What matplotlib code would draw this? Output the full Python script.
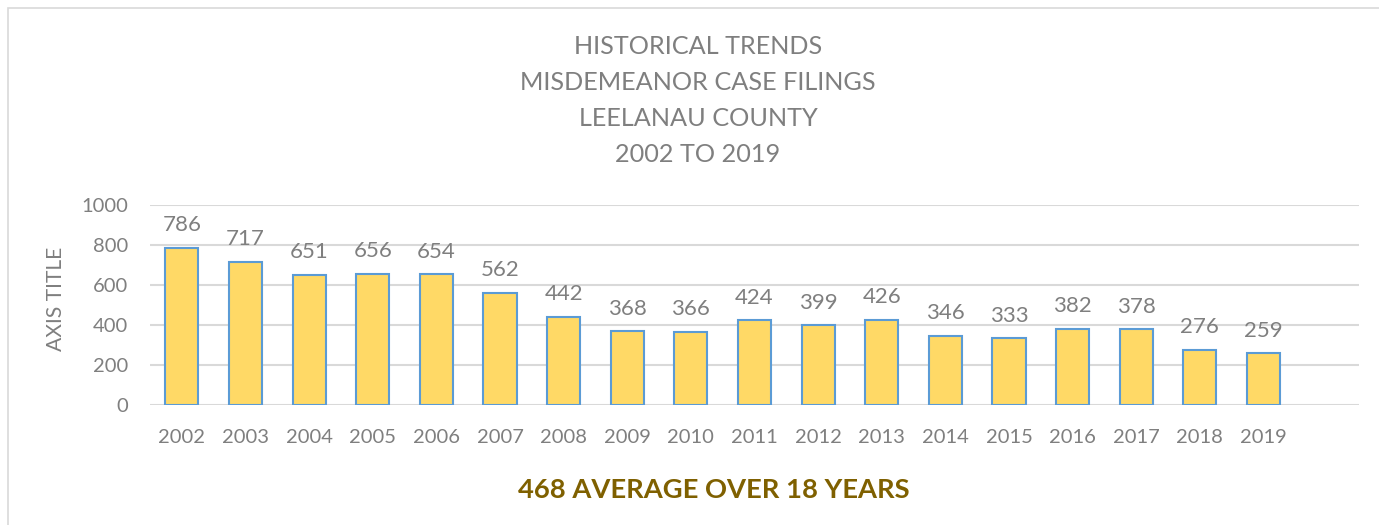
import matplotlib.pyplot as plt
from matplotlib.patches import Rectangle

years = ["2002", "2003", "2004", "2005", "2006", "2007", "2008", "2009", "2010",
         "2011", "2012", "2013", "2014", "2015", "2016", "2017", "2018", "2019"]
filings = [786, 717, 651, 656, 654, 562, 442, 368, 366,
           424, 399, 426, 346, 333, 382, 378, 276, 259]

title_lines = ["HISTORICAL TRENDS", "MISDEMEANOR CASE FILINGS",
               "LEELANAU COUNTY", "2002 TO 2019"]
footer = "468 AVERAGE OVER 18 YEARS"

plt.rcParams['font.family'] = ['Lato', 'DejaVu Sans']
gray = "#7f7f7f"

fig = plt.figure(figsize=(13.79, 5.25), dpi=100)
ax = fig.add_axes([150 / 1379, 1 - 405 / 525, 1209 / 1379, 200 / 525])

x = list(range(len(years)))
bars = ax.bar(x, filings, width=0.52, color="#FFD966", edgecolor="#5B9BD5", linewidth=1.5, zorder=3)
for xi, v in zip(x, filings):
    ax.annotate(str(v), (xi, v), xytext=(0, 9), textcoords="offset points",
                ha="center", va="bottom", fontsize=16, color=gray)

ax.set_xlim(-0.5, len(years) + 0.5)
ax.set_ylim(0, 1000)
ax.set_yticks([0, 200, 400, 600, 800, 1000])
ax.set_xticks(x)
ax.set_xticklabels(years)
ax.tick_params(axis="both", length=0, labelsize=14.5, labelcolor=gray)
ax.tick_params(axis="x", pad=17)
ax.tick_params(axis="y", pad=16)
ax.grid(axis="y", color="#d9d9d9", linewidth=1.5, zorder=0)
ax.set_axisbelow(True)
for s in ax.spines.values():
    s.set_visible(False)

fig.text(56 / 1379, 1 - 299 / 525, "AXIS TITLE", rotation=90, ha="center", va="center",
         fontsize=15.2, color=gray)

for i, line in enumerate(title_lines):
    fig.text(698 / 1379, 1 - (46 + 36 * i) / 525, line, ha="center", va="center",
             fontsize=18.2, color=gray)

fig.text(714 / 1379, 1 - 490 / 525, footer, ha="center", va="center",
         fontsize=19.7, fontweight="bold", color="#7F6000")

fig.patches.append(Rectangle((8 / 1379, -0.1), 1.2, 1 - 8 / 525 + 0.1, transform=fig.transFigure,
                             fill=False, edgecolor="#d9d9d9", linewidth=1.2))

fig.savefig("out.png", dpi=100)
